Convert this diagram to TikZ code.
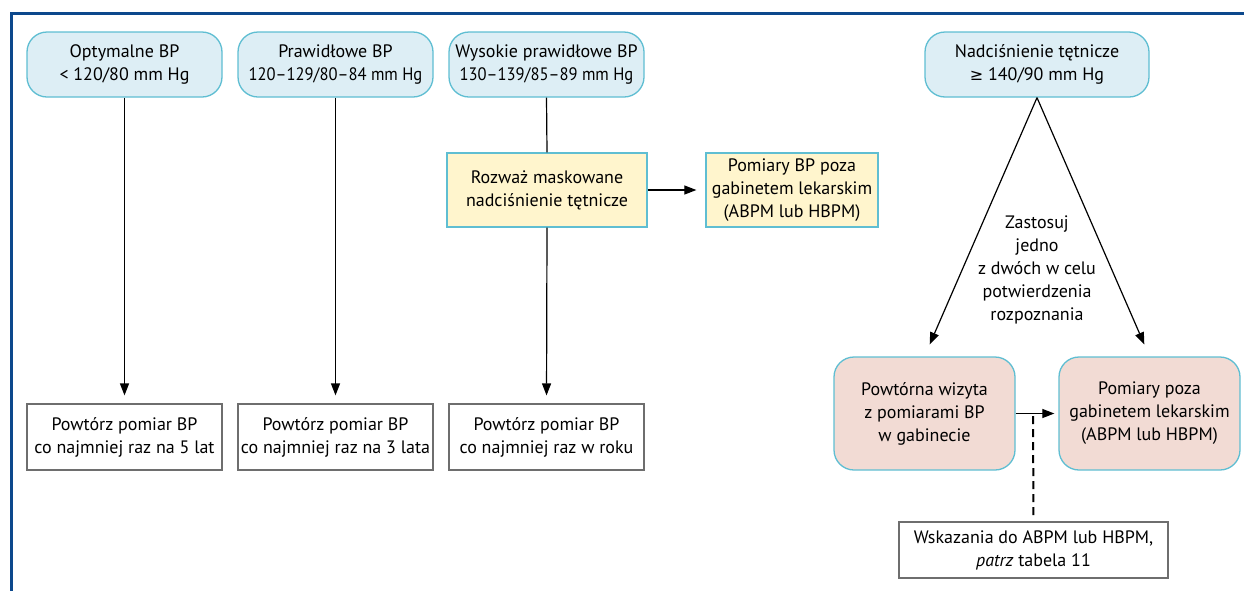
\documentclass[tikz,border=0pt]{standalone}
\usepackage{fontspec}
\usepackage{graphicx}
\setmainfont{PT Sans}
\newfontfamily\symf{DejaVu Sans}
\usetikzlibrary{arrows.meta}
\definecolor{frameblue}{RGB}{12,72,140}
\definecolor{cyanb}{RGB}{95,190,210}
\definecolor{bluefill}{RGB}{221,238,245}
\definecolor{yellowfill}{RGB}{255,245,205}
\definecolor{pinkfill}{RGB}{242,219,212}
\definecolor{grayb}{RGB}{110,110,110}
\newcommand{\sq}[1]{\scalebox{0.92}[1]{#1}}
\tikzset{
  txt/.style={font=\fontsize{18}{23}\selectfont, align=center, text=black, inner sep=0pt},
  roundbox/.style={txt, draw=cyanb, line width=1.3pt, rounded corners=20pt, fill=bluefill},
  pinkbox/.style={txt, draw=cyanb, line width=1.3pt, rounded corners=20pt, fill=pinkfill},
  yelbox/.style={txt, draw=cyanb, line width=1.3pt, fill=yellowfill},
  outbox/.style={txt, draw=grayb, line width=1.2pt, fill=white},
  conn/.style={line width=1.2pt, draw=black},
  arr/.style={conn, -{Triangle[length=12pt,width=9pt]}},
}
\begin{document}
\begin{tikzpicture}[x=1pt,y=-1pt]
\useasboundingbox (0,0) rectangle (1244,590);
\draw[frameblue, line width=3pt] (11,592) -- (11,13) -- (1246,13);

\node[roundbox, minimum width=195pt, minimum height=65pt] (b1) at (124.5,64.5) {Optymalne BP\\< 120/80 mm Hg};
\node[roundbox, minimum width=195pt, minimum height=65pt] (b2) at (335.5,64.5) {Prawidłowe BP\\\sq{120--129/80--84 mm Hg}};
\node[roundbox, minimum width=195pt, minimum height=65pt] (b3) at (546.5,64.5) {Wysokie prawidłowe BP\\\sq{130--139/85--89 mm Hg}};
\node[roundbox, minimum width=224pt, minimum height=65pt] (b4) at (1037,64.5) {Nadciśnienie tętnicze\\{\symf\fontsize{16}{23}\selectfont ≥} 140/90 mm Hg};

\node[yelbox, minimum width=200pt, minimum height=74pt] (mask) at (547,190) {Rozważ maskowane\\nadciśnienie tętnicze};
\node[yelbox, minimum width=172pt, minimum height=74pt] (pom1) at (792,190) {Pomiary BP poza\\gabinetem lekarskim\\(ABPM lub HBPM)};

\node[outbox, minimum width=195pt, minimum height=66pt] (o1) at (124.5,437) {Powtórz pomiar BP\\co najmniej raz na 5 lat};
\node[outbox, minimum width=195pt, minimum height=66pt] (o2) at (335.5,437) {Powtórz pomiar BP\\co najmniej raz na 3 lata};
\node[outbox, minimum width=195pt, minimum height=66pt] (o3) at (546.5,437) {Powtórz pomiar BP\\co najmniej raz w roku};

\node[pinkbox, minimum width=181pt, minimum height=113pt] (pw) at (924.5,413.5) {Powtórna wizyta\\z pomiarami BP\\w gabinecie};
\node[pinkbox, minimum width=181pt, minimum height=113pt] (pom2) at (1149.5,413.5) {Pomiary poza\\gabinetem lekarskim\\(ABPM lub HBPM)};

\node[txt] (lab) at (1037,270) {Zastosuj\\jedno\\z dwóch w celu\\potwierdzenia\\rozpoznania};

\node[outbox, minimum width=269pt, minimum height=56pt] (wsk) at (1033.5,550) {Wskazania do ABPM lub HBPM,\\\textit{patrz} tabela 11};

\draw[arr, shorten >=8pt] (b1.south) -- (o1.north);
\draw[arr, shorten >=8pt] (b2.south) -- (o2.north);
\draw[conn] (b3.south) -- (mask.north);
\draw[arr, shorten >=8pt] (mask.south) -- (o3.north);
\draw[arr, shorten >=9pt] (mask.east) -- (pom1.west);
\draw[arr, shorten >=13pt] (b4.south) -- (pw.north);
\draw[arr, shorten >=13pt] (b4.south) -- (pom2.north);
\draw[arr, shorten >=4pt] (pw.east) -- (pom2.west);
\coordinate (dj) at (1033,414);
\draw[line width=2pt, dash pattern=on 8pt off 5pt, shorten <=2pt, shorten >=5pt] (dj) -- (wsk.north);
\end{tikzpicture}
\end{document}
